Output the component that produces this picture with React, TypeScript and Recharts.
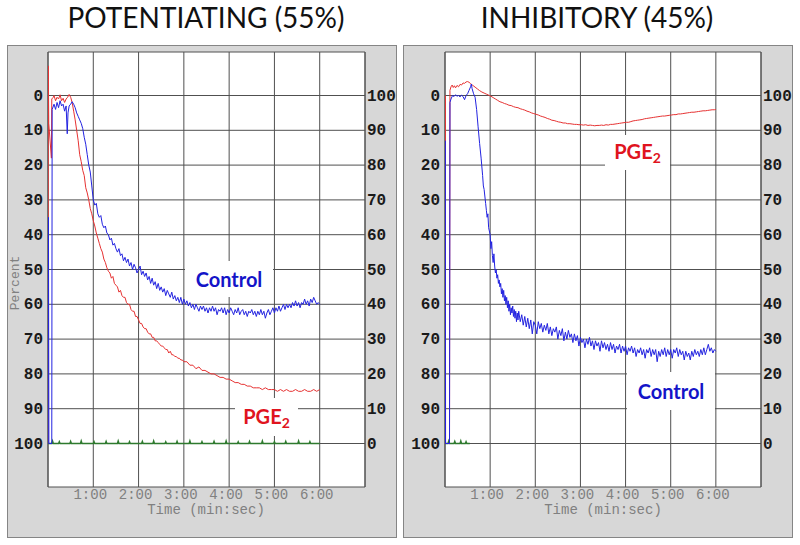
import React from 'react';
import { LineChart, Line, XAxis, YAxis, CartesianGrid, ReferenceArea } from 'recharts';

const timeTicks = [0, 60, 120, 180, 240, 300, 360, 420];
const timeLabels = ['', '1:00', '2:00', '3:00', '4:00', '5:00', '6:00', ''];
const percentTicks = [0, 10, 20, 30, 40, 50, 60, 70, 80, 90, 100];

// [seconds, percent]
const leftControl = [
  [0, 100], [0.6, 35], [1.2, 100], [5, 100], [5.5, 4], [8, 2.5], [10, 4], [12, 2], [14, 3.5], [16, 1.5],
  [18, 3], [20, 2.5], [22, 4.5], [24, 3], [25.5, 11], [26.5, 5], [28, 3], [30, 2.5], [32, 1.8], [34, 2.5],
  [36, 3.5], [38, 5], [40, 6], [42, 7], [44, 8], [46, 9.5], [48, 12], [50, 14], [52, 17], [54, 20],
  [56, 22], [58, 26], [60, 30], [62, 31.5], [64, 31], [66, 34], [68, 35], [70, 34.5], [72, 37], [74, 38],
  [76, 37.5], [78, 39.5], [80, 40], [82, 41.5], [84, 41], [86, 43], [88, 42.5], [90, 44], [92, 45], [94, 44],
  [96, 46], [98, 45.5], [100, 47.5], [102, 46.5], [104, 48], [106, 47], [108, 49], [110, 48], [112, 50], [114, 48.5],
  [116, 49.5], [118, 51], [120, 50], [122, 49], [124, 51.5], [126, 50.5], [128, 52], [130, 51], [132, 53], [134, 52],
  [136, 54], [138, 52.5], [140, 54.5], [142, 53.5], [144, 55.5], [146, 54], [148, 56], [150, 55], [152, 56.5], [154, 55.5],
  [156, 57.5], [158, 56], [160, 57], [162, 58], [164, 56.5], [166, 58.5], [168, 57.5], [170, 59], [172, 58], [174, 59.5],
  [176, 58], [178, 60], [180, 58.5], [182, 60], [184, 59], [186, 60.5], [188, 59.5], [190, 61], [192, 60], [194, 61.5],
  [196, 60], [198, 61], [200, 62], [202, 60.5], [204, 61.5], [206, 60.5], [208, 62], [210, 61], [212, 62.5], [214, 61],
  [216, 62], [218, 60.5], [220, 62], [222, 61], [224, 63], [226, 61.5], [228, 62], [230, 61], [232, 62.5], [234, 61],
  [236, 63], [238, 61.5], [240, 62.5], [242, 61], [244, 62], [246, 63], [248, 61.5], [250, 62.5], [252, 61], [254, 63],
  [256, 62], [258, 61.5], [260, 63], [262, 62], [264, 63.5], [266, 62], [268, 62.5], [270, 61.5], [272, 63], [274, 62],
  [276, 63.5], [278, 62], [280, 63], [282, 61.5], [284, 63], [286, 62], [288, 64], [290, 62.5], [292, 61.5], [294, 63],
  [296, 62], [298, 61], [300, 62.5], [302, 61], [304, 62], [306, 60.5], [308, 62], [310, 61], [312, 60], [314, 61.5],
  [316, 60], [318, 61], [320, 60], [322, 61], [324, 59.5], [326, 60.5], [328, 59], [330, 60.5], [332, 59.5], [334, 61],
  [336, 59.5], [338, 60], [340, 58.5], [342, 60], [344, 59], [346, 60.5], [348, 58.5], [350, 59.5], [352, 58], [354, 59],
  [356, 60], [358, 59.5], [360, 60],
];

const leftPge = [
  [0, 100], [0.4, -8.5], [1, 8], [4.5, 18], [5, 1], [7, 0.5], [8, 0], [10, 1.5], [12, 0.5], [14, 1],
  [16, -0.2], [18, 1.5], [20, 0.8], [22, 2], [24, 1], [26, 0.5], [28, -0.3], [30, 0.5], [32, 2], [34, 4.5],
  [36, 7], [38, 10], [40, 13], [42, 17], [44, 19], [46, 21.5], [48, 23], [50, 26.5], [52, 28], [54, 30],
  [56, 32.5], [58, 34], [60, 36], [62, 37.5], [64, 39.5], [66, 41], [68, 42.5], [70, 44], [72, 45], [74, 47],
  [76, 48], [78, 49.5], [80, 50.5], [82, 51], [84, 52.5], [86, 52], [88, 54], [90, 54.5], [92, 55], [94, 56.5],
  [96, 56], [98, 57.5], [100, 58], [102, 58], [104, 59.5], [106, 60], [108, 60], [110, 61.5], [112, 62], [114, 62],
  [116, 63.5], [118, 63.5], [120, 64.5], [122, 65.5], [124, 65.5], [126, 66.5], [128, 67], [130, 67], [132, 68], [134, 68.5],
  [136, 68.5], [138, 69.5], [140, 69.5], [142, 70.5], [144, 70.5], [146, 71], [148, 71.5], [150, 72], [152, 72], [154, 72.5],
  [156, 73], [158, 73], [160, 74], [162, 73.5], [164, 74.5], [166, 74.5], [168, 75], [170, 75], [172, 75.5], [174, 75.5],
  [176, 76], [178, 76], [180, 76.5], [184, 76.5], [188, 77.5], [192, 77.5], [196, 78.5], [200, 78], [204, 79], [208, 79],
  [212, 79.5], [216, 80], [220, 80], [224, 80.5], [228, 81], [232, 81], [236, 81.5], [240, 81.5], [244, 82], [248, 82.5],
  [252, 82.5], [256, 83], [260, 83], [264, 83.5], [268, 83.5], [272, 84], [276, 84], [280, 84], [284, 84.5], [288, 84],
  [292, 84.5], [296, 84.5], [300, 84.5], [304, 85], [308, 84.5], [312, 85], [316, 84.5], [320, 85], [324, 85], [328, 84.5],
  [332, 85], [336, 85], [340, 84.5], [344, 85], [348, 85], [352, 84.5], [356, 85], [360, 84.5],
];

const leftBaseline = [
  [0, 100], [5, 100], [6, 99.3], [7, 100], [14, 100], [15, 99.5], [16, 100], [29, 100], [30, 99.4], [31, 100],
  [43, 100], [44, 99.3], [45, 100], [60, 100], [61, 99.5], [62, 100], [76, 100], [77, 99.4], [78, 100], [92, 100],
  [93, 99.3], [94, 100], [107, 100], [108, 99.5], [109, 100], [124, 100], [125, 99.4], [126, 100], [139, 100], [140, 99.3],
  [141, 100], [155, 100], [156, 99.5], [157, 100], [170, 100], [171, 99.4], [172, 100], [187, 100], [188, 99.3], [189, 100],
  [203, 100], [204, 99.5], [205, 100], [219, 100], [220, 99.4], [221, 100], [235, 100], [236, 99.3], [237, 100], [251, 100],
  [252, 99.5], [253, 100], [266, 100], [267, 99.4], [268, 100], [283, 100], [284, 99.3], [285, 100], [299, 100], [300, 99.5],
  [301, 100], [314, 100], [315, 99.4], [316, 100], [331, 100], [332, 99.3], [333, 100], [346, 100], [347, 99.5], [348, 100],
  [360, 100],
];

const rightControl = [
  [0, 100], [0.3, 13], [0.7, 100], [6, 100], [6.6, 2], [8, 1], [10, 0], [12, 0.3], [14, -0.2], [16, 0.2],
  [18, 0], [20, 0.4], [22, -0.1], [24, 0.3], [26, 1.2], [28, 0], [30, -0.5], [32, -1.5], [34, -2.5], [35, -3.3],
  [36, -2], [38, -0.5], [40, 0.5], [42, 4], [44, 9], [46, 13.8], [48, 18], [50, 23], [51, 26], [52, 27],
  [54, 31], [55, 33], [56, 35], [57, 34], [58, 38], [60, 40], [61, 44], [62, 42], [63, 46], [64, 48],
  [65, 45.5], [66, 49], [67, 51], [68, 50], [69, 52.5], [70, 51.5], [71, 54], [72, 53], [73, 55], [74, 54],
  [75, 57], [76, 55.5], [77, 58], [78, 56], [79, 59], [80, 57.5], [81, 60], [82, 58], [83, 61], [84, 59],
  [85, 62], [86, 60], [87, 63], [88, 61], [89, 62.5], [90, 60.5], [91, 63.5], [92, 61.5], [93, 64], [94, 62],
  [95, 65], [96, 62.5], [97, 64.5], [98, 62], [100, 65], [102, 63], [104, 66], [106, 63.5], [108, 66.5], [110, 64],
  [112, 67], [114, 64.5], [116, 68.5], [118, 65], [120, 66], [122, 68.5], [124, 65], [126, 67], [128, 65.5], [130, 68],
  [132, 66], [134, 67.5], [136, 65.5], [138, 68.5], [140, 66.5], [142, 69], [144, 67], [146, 68], [148, 66.5], [150, 70],
  [152, 67.5], [154, 69], [156, 67], [158, 70.5], [160, 68], [162, 70], [164, 67.5], [166, 69.5], [168, 68.5], [170, 71],
  [172, 68.5], [174, 70.5], [176, 69], [178, 72], [180, 69.5], [182, 71], [184, 70], [186, 72.5], [188, 70], [190, 71.5],
  [192, 69.5], [194, 72], [196, 70.5], [198, 73], [200, 70.5], [202, 72], [204, 71], [206, 73.5], [208, 70.5], [210, 72.5],
  [212, 71], [214, 73], [216, 71.5], [218, 73.5], [220, 71], [222, 73], [224, 71.5], [226, 74], [228, 72], [230, 73],
  [232, 71.5], [234, 74], [236, 72], [238, 73.5], [240, 72], [242, 74.5], [244, 72.5], [246, 73.5], [248, 72], [250, 74],
  [252, 72.5], [254, 75], [256, 73], [258, 74], [260, 72.5], [262, 74.5], [264, 73], [266, 75.5], [268, 73], [270, 74],
  [272, 72.5], [274, 75], [276, 73], [278, 74.5], [280, 73], [282, 76.5], [284, 73.5], [286, 75], [288, 73], [290, 74.5],
  [292, 72.5], [294, 75], [296, 73], [298, 74.5], [300, 73], [302, 75.5], [304, 73], [306, 74], [308, 72.5], [310, 75],
  [312, 73], [314, 74.5], [316, 73.5], [318, 76], [320, 73.5], [322, 75], [324, 74], [326, 76], [328, 73.5], [330, 75],
  [332, 73], [334, 74.5], [336, 73.5], [338, 75], [340, 73], [342, 74.5], [344, 72.5], [346, 74.5], [348, 73], [350, 71.5],
  [352, 73.5], [354, 72.5], [356, 74], [358, 73], [360, 73.5],
];

const rightPge = [
  [0, 100], [0.3, 0], [0.8, 100], [6, 100], [6.6, -1.5], [8, -2.5], [9.5, -3], [11, -2.3], [12.5, -2.8], [14, -2.2],
  [16, -2.9], [18, -2.5], [20, -3.2], [22, -3], [24, -3.6], [26, -3.5], [28, -3.9], [30, -4], [32, -3.8], [34, -3.4],
  [37, -2.9], [40, -2.4], [43, -1.9], [46, -1.4], [49, -1], [52, -0.7], [55, -0.4], [58, -0.1], [61, 0.2], [64, 0.6],
  [67, 1], [70, 1.4], [73, 1.8], [76, 2], [79, 2.3], [82, 2.5], [85, 2.8], [88, 2.9], [91, 3.2], [94, 3.4],
  [97, 3.5], [100, 3.8], [103, 4], [106, 4.2], [109, 4.5], [112, 4.7], [115, 5], [118, 5.2], [121, 5.4], [124, 5.6],
  [127, 5.9], [130, 6.1], [133, 6.3], [136, 6.6], [139, 6.8], [142, 7.1], [145, 7.2], [148, 7.4], [151, 7.6], [154, 7.7],
  [157, 7.9], [160, 7.9], [163, 8.1], [166, 8.1], [169, 8.2], [172, 8.3], [175, 8.3], [178, 8.4], [181, 8.4], [184, 8.5],
  [187, 8.4], [190, 8.6], [193, 8.5], [196, 8.6], [199, 8.7], [202, 8.6], [205, 8.6], [208, 8.5], [211, 8.6], [214, 8.4],
  [217, 8.5], [220, 8.3], [223, 8.3], [226, 8.2], [229, 8.1], [232, 8], [235, 7.9], [238, 7.8], [241, 7.7], [244, 7.7],
  [247, 7.5], [250, 7.3], [253, 7.2], [256, 7.1], [259, 7], [262, 6.9], [265, 6.7], [268, 6.6], [271, 6.5], [274, 6.4],
  [277, 6.3], [280, 6.2], [283, 6.1], [286, 6], [289, 5.9], [292, 5.9], [295, 5.8], [298, 5.7], [301, 5.6], [304, 5.5],
  [307, 5.5], [310, 5.3], [313, 5.3], [316, 5.2], [319, 5.1], [322, 5], [325, 4.9], [328, 4.8], [331, 4.8], [334, 4.7],
  [337, 4.6], [340, 4.5], [343, 4.4], [346, 4.4], [349, 4.3], [352, 4.2], [355, 4.1], [358, 4.1], [360, 4],
];

const rightBaseline = [
  [0, 100], [4, 100], [5, 99.3], [6, 100], [12, 100], [13, 99.4], [14, 100], [20, 100], [21, 99.3], [22, 100],
  [27, 100], [28, 99.5], [29, 100], [33, 100],
];

const BLUE = '#2323e0';
const RED = '#e63232';
const GREEN = '#2e7a2e';
const GRID = '#505050';
const MONO = '"Liberation Mono", "DejaVu Sans Mono", monospace';

const rows = (pts: number[][]) => pts.map(([t, v]) => ({ t, v }));

interface PanelProps {
  left: number;
  plotLeft: number;
  plotRight: number;
  series: { pts: number[][]; color: string; width: number }[];
}

const TracePanel = ({ left, plotLeft, plotRight, series }: PanelProps) => {
  const yTick = (p: any) => (
    <g>
      <text x={plotLeft - 5} y={p.y} dy={5} textAnchor="end" fontFamily={MONO} fontWeight="bold" fontSize={16} fill="#1a1a1a">
        {p.payload.value}
      </text>
      <text x={plotRight + 2} y={p.y} dy={5} textAnchor="start" fontFamily={MONO} fontWeight="bold" fontSize={16} fill="#1a1a1a">
        {100 - p.payload.value}
      </text>
    </g>
  );
  const xTick = (p: any) => (
    <text x={p.x - 3} y={499} textAnchor="middle" fontFamily={MONO} fontSize={14} fill="#808080">
      {timeLabels[timeTicks.indexOf(p.payload.value)]}
    </text>
  );
  return (
    <div style={{ position: 'absolute', left, top: 0 }}>
      <LineChart width={400} height={545} margin={{ top: 52, right: 400 - plotRight, bottom: 28, left: plotLeft - 40 }}>
        <CartesianGrid fill="#ffffff" stroke={GRID} strokeOpacity={1} horizontalValues={percentTicks} verticalValues={timeTicks} />
        <XAxis type="number" dataKey="t" domain={[0, 420]} ticks={timeTicks} height={30} axisLine={false} tickLine={false} tick={xTick} allowDataOverflow />
        <YAxis type="number" domain={[-12.5, 112.5]} reversed ticks={percentTicks} width={40} axisLine={false} tickLine={false} tick={yTick} allowDataOverflow />
        <ReferenceArea x1={0} x2={420} y1={-12.5} y2={112.5} fill="none" stroke={GRID} strokeOpacity={1} ifOverflow="visible" />
        {series.map((s, i) => (
          <Line key={i} data={rows(s.pts)} dataKey="v" type="linear" stroke={s.color} strokeWidth={s.width} dot={false} activeDot={false} isAnimationActive={false} />
        ))}
      </LineChart>
    </div>
  );
};

const Tag = ({ x, y, w, h, color, children }: any) => (
  <div
    style={{
      position: 'absolute', left: x, top: y, width: w, height: h, background: '#fff',
      display: 'flex', alignItems: 'center', justifyContent: 'center',
      fontFamily: 'Lato, "Open Sans", sans-serif', fontWeight: 700, fontSize: 20, color,
    }}
  >
    <span>{children}</span>
  </div>
);

const Pge = () => (
  <>PGE<sub style={{ fontSize: 14, verticalAlign: -4 }}>2</sub></>
);

const boxStyle: React.CSSProperties = {
  position: 'absolute', top: 45, height: 493, width: 390, boxSizing: 'border-box',
  background: '#d7d7d7', border: '1px solid #858585',
};

const titleStyle: React.CSSProperties = {
  position: 'absolute', top: 2, lineHeight: '30px', fontSize: 28,
  fontFamily: 'Lato, "Open Sans", sans-serif', color: '#111', transform: 'translateX(-50%)', whiteSpace: 'nowrap',
};

const axisTitle: React.CSSProperties = {
  position: 'absolute', fontFamily: MONO, fontSize: 14, color: '#808080', whiteSpace: 'nowrap', lineHeight: 1,
};

export default function App() {
  return (
    <div style={{ position: 'absolute', left: 0, top: 0, width: 800, height: 545, background: '#fff', overflow: 'hidden' }}>
      <div style={{ ...titleStyle, left: 206 }}>POTENTIATING (55%)</div>
      <div style={{ ...titleStyle, left: 597 }}>INHIBITORY (45%)</div>
      <div style={{ ...boxStyle, left: 7 }} />
      <div style={{ ...boxStyle, left: 403 }} />
      <TracePanel
        left={0}
        plotLeft={48}
        plotRight={365}
        series={[
          { pts: leftBaseline, color: GREEN, width: 1.5 },
          { pts: leftPge, color: RED, width: 1 },
          { pts: leftControl, color: BLUE, width: 1 },
        ]}
      />
      <TracePanel
        left={400}
        plotLeft={45}
        plotRight={361}
        series={[
          { pts: rightBaseline, color: GREEN, width: 1.5 },
          { pts: rightPge, color: RED, width: 1 },
          { pts: rightControl, color: BLUE, width: 1 },
        ]}
      />
      <div style={{ ...axisTitle, left: 15, top: 283, fontSize: 13, transform: 'translate(-50%, -50%) rotate(-90deg)' }}>Percent</div>
      <div style={{ ...axisTitle, left: 206, top: 510, transform: 'translate(-50%, -50%)' }}>Time (min:sec)</div>
      <div style={{ ...axisTitle, left: 603, top: 510, transform: 'translate(-50%, -50%)' }}>Time (min:sec)</div>
      <Tag x={185} y={261} w={88} h={36} color="#1414c8">Control</Tag>
      <Tag x={235} y={398} w={63} h={38} color="#e0141e"><Pge /></Tag>
      <Tag x={605} y={135} w={65} h={35} color="#e0141e"><Pge /></Tag>
      <Tag x={627} y={372} w={88} h={38} color="#1414c8">Control</Tag>
    </div>
  );
}
